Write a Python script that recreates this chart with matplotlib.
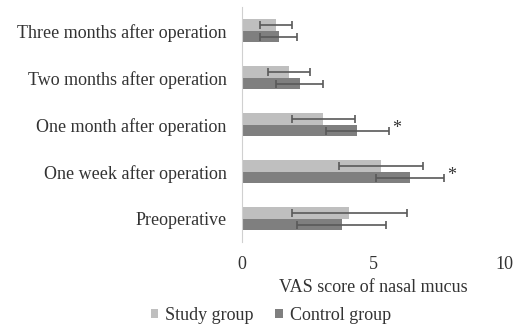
import numpy as np
import matplotlib.pyplot as plt

# VAS score of nasal mucus, mean and SD per time point
stages = ["Preoperative", "One week after operation", "One month after operation",
          "Two months after operation", "Three months after operation"]
study_mean = [4.1, 5.3, 3.1, 1.8, 1.3]
study_sd = [2.2, 1.6, 1.2, 0.8, 0.6]
control_mean = [3.8, 6.4, 4.4, 2.2, 1.4]
control_sd = [1.7, 1.3, 1.2, 0.9, 0.7]
significant = [False, True, True, False, False]

plt.rcParams['font.family'] = ['Liberation Serif', 'DejaVu Serif']
txt_color = "#333333"

fig = plt.figure(figsize=(5.16, 3.25), dpi=100)
ax = fig.add_axes([0.469, 0.255, 0.508, 0.723])

y = np.arange(len(stages))
h = 0.25
err_style = dict(ecolor="#595959", elinewidth=1.2, capsize=3, capthick=1.2)

ax.barh(y + h / 2, study_mean, h, xerr=study_sd, color="#BFBFBF",
        label="Study group", error_kw=err_style)
ax.barh(y - h / 2, control_mean, h, xerr=control_sd, color="#7F7F7F",
        label="Control group", error_kw=err_style)

# mark significant differences at the end of the control error bar
for i, sig in enumerate(significant):
    if sig:
        ax.text(control_mean[i] + control_sd[i] + 0.12, y[i] - h / 2 + 0.05, "*",
                fontsize=13, color=txt_color, va="center", ha="left")

ax.set_xlim(0, 10)
ax.set_ylim(-0.5, len(stages) - 0.5)
ax.set_xticks([0, 5, 10])
ax.set_yticks(y)
ax.set_yticklabels(stages)
ax.tick_params(length=0, labelsize=13, labelcolor=txt_color)
ax.tick_params(axis="x", pad=10)
ax.tick_params(axis="y", pad=11)
for s in ["top", "right", "bottom"]:
    ax.spines[s].set_visible(False)
ax.spines["left"].set_color("#D0D0D0")

ax.set_xlabel("VAS score of nasal mucus", fontsize=13, color=txt_color, labelpad=4)

fig.legend(loc="center", bbox_to_anchor=(0.525, 0.03), ncol=2, frameon=False,
           fontsize=13, handlelength=0.4, handleheight=0.4, handletextpad=0.4,
           columnspacing=1.2, labelcolor=txt_color)

fig.savefig("out.png", dpi=100)
